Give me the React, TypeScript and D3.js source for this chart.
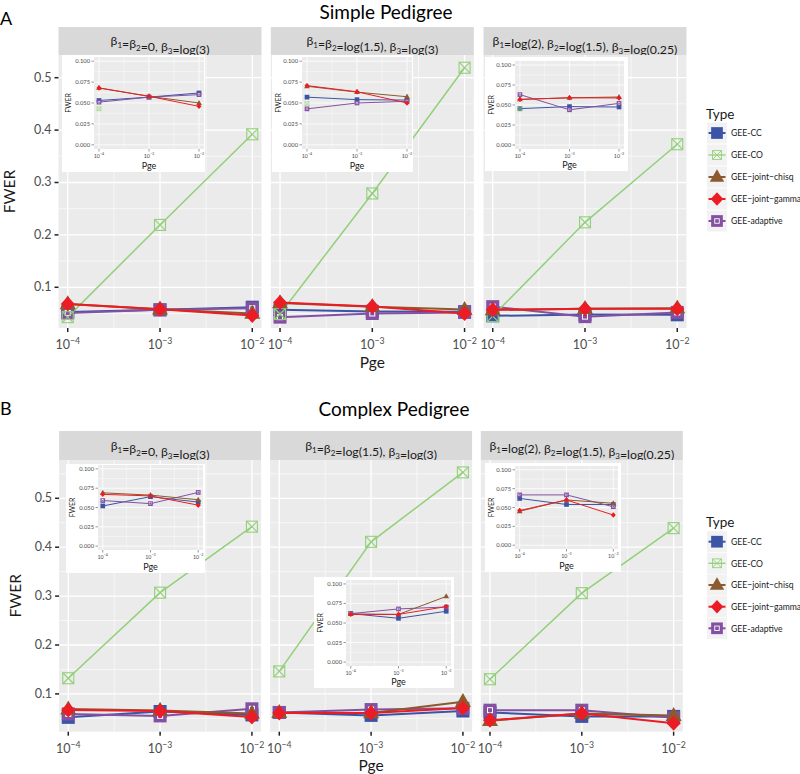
import React from "react";
import * as d3 from "d3";

// ---------- data ----------
const pgeExponents = [-4, -3, -2];
const seriesNames = ["GEE-CC", "GEE-CO", "GEE−joint−chisq", "GEE−joint−gamma", "GEE-adaptive"];
const seriesColors = ["#3B54A5", "#93D07A", "#8B5A2D", "#EC1C24", "#8450A3"];
const mainYTicks = [0.1, 0.2, 0.3, 0.4, 0.5];
const mainYTickLabels = ["0.1", "0.2", "0.3", "0.4", "0.5"];
const insetYTicks = [0, 0.025, 0.05, 0.075, 0.1];
const insetYTickLabels = ["0.000", "0.025", "0.050", "0.075", "0.100"];

const facetLabels: [string, string][][] = [
  [["β", "1"], ["=β", "2"], ["=0, β", "3"], ["=log(3)", ""]],
  [["β", "1"], ["=β", "2"], ["=log(1.5), β", "3"], ["=log(3)", ""]],
  [["β", "1"], ["=log(2), β", "2"], ["=log(1.5), β", "3"], ["=log(0.25)", ""]],
];

// Simple pedigree: [facet][pge]
const simpleCC = [[0.053, 0.057, 0.062], [0.057, 0.054, 0.0535], [0.0455, 0.048, 0.0475]];
const simpleCO = [[0.043, 0.219, 0.392], [0.049, 0.279, 0.519], [0.045, 0.224, 0.373]];
const simpleChisq = [[0.068, 0.058, 0.05], [0.07, 0.063, 0.0575], [0.057, 0.059, 0.06]];
const simpleGamma = [[0.068, 0.058, 0.046], [0.0708, 0.0634, 0.05], [0.057, 0.059, 0.0588]];
const simpleAdaptive = [[0.051, 0.057, 0.06], [0.043, 0.05, 0.052], [0.063, 0.044, 0.052]];

// Complex pedigree
const complexCC = [[0.052, 0.064, 0.057], [0.062, 0.056, 0.065], [0.062, 0.054, 0.054]];
const complexCO = [[0.132, 0.307, 0.442], [0.146, 0.411, 0.553], [0.13, 0.306, 0.439]];
const complexChisq = [[0.069, 0.066, 0.06], [0.0615, 0.061, 0.084], [0.045, 0.06, 0.0556]];
const complexGamma = [[0.067, 0.065, 0.053], [0.061, 0.061, 0.071], [0.046, 0.06, 0.04]];
const complexAdaptive = [[0.059, 0.055, 0.0695], [0.062, 0.068, 0.0705], [0.0667, 0.0667, 0.051]];

// ---------- layout ----------
const FONT = "Lato, 'Open Sans', sans-serif";
const PANEL_BG = "#EBEBEB";
const STRIP_BG = "#D9D9D9";
const TICK_COL = "#4D4D4D";

type Inset = { bx: number; by: number; bw: number; bh: number; px: number; py: number; pw: number; ph: number };

const panels = [
  {
    letter: "A", letterY: 25, title: "Simple Pedigree", titleX: 386, titleY: 19,
    stripTop: 27, panelTop: 55, panelBottom: 328, lefts: [58.5, 270.8, 483.5], width: 203,
    yDomain: [0.0223, 0.5433], xLabelY: 368, yLabelX: 15,
    series: [simpleCC, simpleCO, simpleChisq, simpleGamma, simpleAdaptive],
    insets: [
      { bx: 62, by: 55, bw: 143, bh: 117, px: 94, py: 57, pw: 110, ph: 92 },
      { bx: 272, by: 55, bw: 141, bh: 117, px: 302, py: 57, pw: 110, ph: 92 },
      { bx: 485, by: 57, bw: 143, bh: 114, px: 515, py: 61, pw: 109, ph: 88 },
    ] as Inset[],
    legendTitleY: 119, legendRows: [133, 155, 177, 199, 221],
  },
  {
    letter: "B", letterY: 415, title: "Complex Pedigree", titleX: 394, titleY: 416,
    stripTop: 431, panelTop: 460, panelBottom: 731.7, lefts: [59.1, 270.1, 480.8], width: 202,
    yDomain: [0.0227, 0.5783], xLabelY: 771, yLabelX: 21,
    series: [complexCC, complexCO, complexChisq, complexGamma, complexAdaptive],
    insets: [
      { bx: 66, by: 464, bw: 139, bh: 109, px: 98, py: 465, pw: 105, ph: 85 },
      { bx: 314, by: 577, bw: 140, bh: 111, px: 346, py: 580, pw: 105, ph: 86 },
      { bx: 485, by: 463, bw: 136, bh: 109, px: 515, py: 466, pw: 103, ph: 83 },
    ] as Inset[],
    legendTitleY: 527, legendRows: [541.7, 563.3, 585, 606.7, 628.3],
  },
];

const pointOrder = [0, 4, 1, 2, 3];

function Marker({ type, x, y, s }: { type: number; x: number; y: number; s: number }) {
  const c = seriesColors[type];
  if (type === 0) {
    const h = 13 * s;
    return <rect x={x - h / 2} y={y - h / 2} width={h} height={h} fill={c} />;
  }
  if (type === 1) {
    const h = 11 * s;
    const sw = Math.max(0.6, 1.1 * s);
    return (
      <g stroke={c} strokeWidth={sw} fill="none">
        <rect x={x - h / 2} y={y - h / 2} width={h} height={h} />
        <line x1={x - h / 2} y1={y - h / 2} x2={x + h / 2} y2={y + h / 2} />
        <line x1={x + h / 2} y1={y - h / 2} x2={x - h / 2} y2={y + h / 2} />
      </g>
    );
  }
  if (type === 2) {
    const w = 16 * s, h = 14 * s;
    return <path d={`M${x},${y - h * 0.62}L${x + w / 2},${y + h * 0.38}L${x - w / 2},${y + h * 0.38}Z`} fill={c} />;
  }
  if (type === 3) {
    const w = 14 * s, h = 15 * s;
    return <path d={`M${x},${y - h / 2}L${x + w / 2},${y}L${x},${y + h / 2}L${x - w / 2},${y}Z`} fill={c} />;
  }
  const h = 13 * s;
  const ih = 5 * s;
  return (
    <g>
      <rect x={x - h / 2} y={y - h / 2} width={h} height={h} fill={c} />
      <rect x={x - ih / 2} y={y - ih / 2} width={ih} height={ih} fill="none" stroke="#FFFFFF" strokeWidth={Math.max(0.4, 1 * s)} />
    </g>
  );
}

function Sup({ exp, size }: { exp: number; size: number }) {
  return (
    <>
      <tspan>10</tspan>
      <tspan dy={-size * 0.4} fontSize={size * 0.7}>{`−${Math.abs(exp)}`}</tspan>
    </>
  );
}

function StripText({ parts, x, y }: { parts: [string, string][]; x: number; y: number }) {
  const out: React.ReactNode[] = [];
  parts.forEach(([t, sub], i) => {
    out.push(<tspan key={`t${i}`}>{t}</tspan>);
    if (sub) {
      out.push(<tspan key={`s${i}`} dy={3} fontSize={8}>{sub}</tspan>);
      out.push(<tspan key={`r${i}`} dy={-3}>{""}</tspan>);
    }
  });
  return (
    <text x={x} y={y} textAnchor="middle" fontSize={12.3} fill="#1A1A1A" fontFamily={FONT}>
      {out}
    </text>
  );
}

function InsetPlot({ ins, facet, series }: { ins: Inset; facet: number; series: number[][][] }) {
  const x = d3.scaleLinear().domain([-4.1, -1.9]).range([ins.px, ins.px + ins.pw]);
  const y = d3.scaleLinear().domain([-0.005, 0.105]).range([ins.py + ins.ph, ins.py]);
  const minorY = [0.0125, 0.0375, 0.0625, 0.0875];
  const minorX = [-3.5, -2.5];
  const line = d3.line<[number, number]>().x((d) => d[0]).y((d) => d[1]);
  const inRange = (v: number) => v >= -0.005 && v <= 0.105;
  return (
    <g>
      <rect x={ins.bx} y={ins.by} width={ins.bw} height={ins.bh} fill="#FFFFFF" />
      <rect x={ins.px} y={ins.py} width={ins.pw} height={ins.ph} fill={PANEL_BG} />
      {minorY.map((v) => (
        <line key={`my${v}`} x1={ins.px} x2={ins.px + ins.pw} y1={y(v)} y2={y(v)} stroke="#FFFFFF" strokeWidth={0.4} />
      ))}
      {minorX.map((v) => (
        <line key={`mx${v}`} y1={ins.py} y2={ins.py + ins.ph} x1={x(v)} x2={x(v)} stroke="#FFFFFF" strokeWidth={0.4} />
      ))}
      {insetYTicks.map((v) => (
        <line key={`gy${v}`} x1={ins.px} x2={ins.px + ins.pw} y1={y(v)} y2={y(v)} stroke="#FFFFFF" strokeWidth={0.8} />
      ))}
      {pgeExponents.map((e) => (
        <line key={`gx${e}`} y1={ins.py} y2={ins.py + ins.ph} x1={x(e)} x2={x(e)} stroke="#FFFFFF" strokeWidth={0.8} />
      ))}
      {[0, 4, 1, 2, 3].map((si) => {
        const vals = series[si][facet];
        const segs = vals.every(inRange) ? vals.map((v, i) => [x(pgeExponents[i]), y(v)] as [number, number]) : [];
        return segs.length > 1 ? (
          <path key={`il${si}`} d={line(segs) || ""} fill="none" stroke={seriesColors[si]} strokeWidth={1} />
        ) : null;
      })}
      {pointOrder.map((si) =>
        series[si][facet].map((v, i) =>
          inRange(v) ? <Marker key={`ip${si}-${i}`} type={si} x={x(pgeExponents[i])} y={y(v)} s={0.36} /> : null
        )
      )}
      {insetYTicks.map((v, i) => (
        <g key={`yt${v}`}>
          <line x1={ins.px - 2.5} x2={ins.px} y1={y(v)} y2={y(v)} stroke="#333" strokeWidth={0.5} />
          <text x={ins.px - 4} y={y(v) + 2} textAnchor="end" fontSize={5.8} fill={TICK_COL} fontFamily={FONT}>
            {insetYTickLabels[i]}
          </text>
        </g>
      ))}
      {pgeExponents.map((e) => (
        <g key={`xt${e}`}>
          <line x1={x(e)} x2={x(e)} y1={ins.py + ins.ph} y2={ins.py + ins.ph + 2.5} stroke="#333" strokeWidth={0.5} />
          <text x={x(e)} y={ins.py + ins.ph + 8.5} textAnchor="middle" fontSize={5.3} fill={TICK_COL} fontFamily={FONT}>
            <Sup exp={e} size={5.3} />
          </text>
        </g>
      ))}
      <text
        transform={`translate(${ins.bx + 9},${ins.py + ins.ph / 2}) rotate(-90)`}
        textAnchor="middle" fontSize={7} fill="#1A1A1A" fontFamily={FONT}
      >
        FWER
      </text>
      <text x={ins.px + ins.pw / 2} y={ins.by + ins.bh - 3} textAnchor="middle" fontSize={9} fill="#1A1A1A" fontFamily={FONT}>
        Pge
      </text>
    </g>
  );
}

function Panel({ p }: { p: (typeof panels)[number] }) {
  const y = d3.scaleLinear().domain(p.yDomain).range([p.panelBottom, p.panelTop]);
  const minorY = d3.range(0.05, 0.6, 0.1).filter((v) => v >= p.yDomain[0] && v <= p.yDomain[1]);
  const line = d3.line<[number, number]>().x((d) => d[0]).y((d) => d[1]);
  const H = p.panelBottom - p.panelTop;
  return (
    <g>
      <text x={0} y={p.letterY} fontSize={18} fill="#000" fontFamily={FONT}>{p.letter}</text>
      <text x={p.titleX} y={p.titleY} textAnchor="middle" fontSize={19} fill="#000" fontFamily={FONT}>{p.title}</text>
      {p.lefts.map((left, f) => {
        const x = d3.scaleLinear().domain([-4.1, -1.9]).range([left, left + p.width]);
        return (
          <g key={`f${f}`}>
            <rect x={left} y={p.stripTop} width={p.width} height={p.panelTop - p.stripTop} fill={STRIP_BG} />
            <StripText parts={facetLabels[f]} x={left + p.width / 2} y={(p.stripTop + p.panelTop) / 2 + 4} />
            <rect x={left} y={p.panelTop} width={p.width} height={H} fill={PANEL_BG} />
            {minorY.map((v) => (
              <line key={`my${v}`} x1={left} x2={left + p.width} y1={y(v)} y2={y(v)} stroke="#FFFFFF" strokeWidth={0.6} />
            ))}
            {[-3.5, -2.5].map((v) => (
              <line key={`mx${v}`} y1={p.panelTop} y2={p.panelBottom} x1={x(v)} x2={x(v)} stroke="#FFFFFF" strokeWidth={0.6} />
            ))}
            {mainYTicks.map((v) => (
              <line key={`gy${v}`} x1={left} x2={left + p.width} y1={y(v)} y2={y(v)} stroke="#FFFFFF" strokeWidth={1.3} />
            ))}
            {pgeExponents.map((e) => (
              <line key={`gx${e}`} y1={p.panelTop} y2={p.panelBottom} x1={x(e)} x2={x(e)} stroke="#FFFFFF" strokeWidth={1.3} />
            ))}
            {[0, 4, 1, 2, 3].map((si) => (
              <path
                key={`l${si}`}
                d={line(p.series[si][f].map((v, i) => [x(pgeExponents[i]), y(v)] as [number, number])) || ""}
                fill="none"
                stroke={seriesColors[si]}
                strokeWidth={si === 1 ? 1.5 : 2}
              />
            ))}
            {pointOrder.map((si) =>
              p.series[si][f].map((v, i) => (
                <Marker key={`p${si}-${i}`} type={si} x={x(pgeExponents[i])} y={y(v)} s={1} />
              ))
            )}
            {pgeExponents.map((e) => (
              <g key={`xt${e}`}>
                <line x1={x(e)} x2={x(e)} y1={p.panelBottom} y2={p.panelBottom + 4} stroke="#222" strokeWidth={1.5} />
                <text x={x(e)} y={p.panelBottom + 21} textAnchor="middle" fontSize={12.5} fill={TICK_COL} fontFamily={FONT}>
                  <Sup exp={e} size={12.5} />
                </text>
              </g>
            ))}
          </g>
        );
      })}
      {p.insets.map((ins, f) => (
        <InsetPlot key={`in${f}`} ins={ins} facet={f} series={p.series} />
      ))}
      {mainYTicks.map((v, i) => (
        <g key={`yt${v}`}>
          <line x1={p.lefts[0] - 4} x2={p.lefts[0]} y1={y(v)} y2={y(v)} stroke="#222" strokeWidth={1.5} />
          <text x={p.lefts[0] - 7} y={y(v) + 4} textAnchor="end" fontSize={12.5} fill={TICK_COL} fontFamily={FONT}>
            {mainYTickLabels[i]}
          </text>
        </g>
      ))}
      <text
        transform={`translate(${p.yLabelX},${(p.panelTop + p.panelBottom) / 2}) rotate(-90)`}
        textAnchor="middle" fontSize={15.5} fill="#1A1A1A" fontFamily={FONT}
      >
        FWER
      </text>
      <text x={p.lefts[1] + p.width / 2} y={p.xLabelY} textAnchor="middle" fontSize={15.5} fill="#1A1A1A" fontFamily={FONT}>
        Pge
      </text>
      <text x={706} y={p.legendTitleY} fontSize={13.5} fill="#1A1A1A" fontFamily={FONT}>Type</text>
      {seriesNames.map((name, si) => {
        const cy = p.legendRows[si];
        return (
          <g key={`lg${si}`}>
            <rect x={707} y={cy - 10.5} width={20} height={21} fill="#F2F2F2" />
            <line x1={708.5} x2={725.5} y1={cy} y2={cy} stroke={seriesColors[si]} strokeWidth={si === 1 ? 1.3 : 2} />
            <Marker type={si} x={717} y={cy} s={si === 1 ? 0.8 : 0.9} />
            <text x={731} y={cy + 3.2} fontSize={8.6} fill="#1A1A1A" fontFamily={FONT}>{name}</text>
          </g>
        );
      })}
    </g>
  );
}

export default function App() {
  return (
    <svg width={800} height={774} style={{ display: "block", position: "absolute", left: 0, top: 0, background: "#FFFFFF" }}>
      <rect x={0} y={0} width={800} height={774} fill="#FFFFFF" />
      {panels.map((p) => (
        <Panel key={p.letter} p={p} />
      ))}
    </svg>
  );
}
